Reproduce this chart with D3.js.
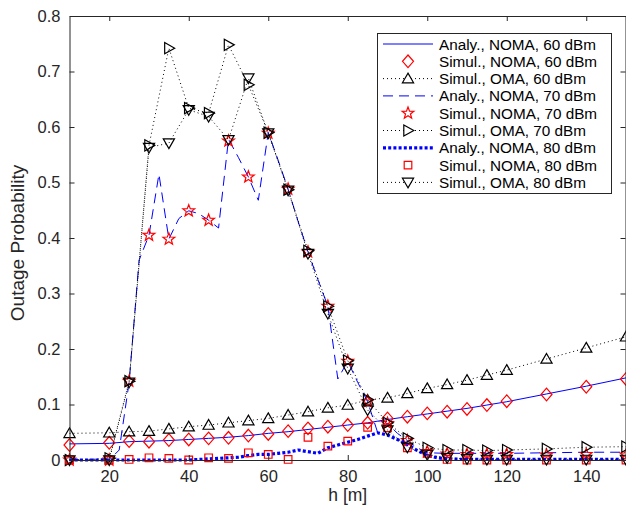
<!DOCTYPE html>
<html><head><meta charset="utf-8">
<script src="https://cdn.jsdelivr.net/npm/d3@7"></script>
<style>body{margin:0;background:#fff} svg{display:block;font-family:"Liberation Sans",Arial,sans-serif}</style>
</head><body><svg id="c" width="626" height="510"></svg>
<script>
// ---- data ----
const hSim = [10,20,25,30,35,40,45,50,55,60,65,70,75,80,85,90,95,100,105,110,115,120,130,140,150];
const analyNoma60 = [0.029,0.030,0.033,0.034,0.035,0.037,0.039,0.041,0.044,0.048,0.051,0.055,0.059,0.063,0.067,0.073,0.078,0.083,0.088,0.093,0.099,0.105,0.119,0.133,0.148];
const simNoma60  = [0.027,0.031,0.034,0.033,0.036,0.037,0.039,0.040,0.044,0.047,0.052,0.057,0.060,0.063,0.067,0.075,0.078,0.084,0.087,0.092,0.099,0.106,0.118,0.132,0.146];
const simOma60   = [0.048,0.049,0.051,0.052,0.056,0.060,0.063,0.067,0.071,0.075,0.081,0.087,0.094,0.099,0.108,0.112,0.120,0.129,0.136,0.144,0.153,0.162,0.182,0.202,0.222];
const simNoma70  = [0.000,0.000,0.142,0.405,0.398,0.449,0.432,0.575,0.510,0.589,0.488,0.375,0.277,0.178,0.105,0.066,0.035,0.015,0.011,0.010,0.010,0.010,0.009,0.010,0.009];
const simOma70   = [0.000,0.003,0.142,0.567,0.742,0.634,0.625,0.748,0.676,0.590,0.487,0.377,0.277,0.179,0.109,0.067,0.039,0.022,0.018,0.018,0.017,0.018,0.020,0.023,0.024];
const simNoma80  = [0.000,0.000,0.001,0.004,0.003,0.000,0.004,0.003,0.013,0.010,0.001,0.041,0.025,0.034,0.059,0.058,0.022,0.012,0.001,0.000,0.000,0.000,0.000,0.000,0.000];
const simOma80   = [0.000,0.000,0.140,0.563,0.571,0.631,0.619,0.577,0.688,0.589,0.486,0.372,0.264,0.165,0.090,0.054,0.023,0.010,0.004,0.002,0.001,0.001,0.001,0.001,0.001];
const hAnaly70 = [10,20,22.5,25,27.5,30,32.5,35,37.5,40,42.5,45,47.5,50,52.5,55,57.5,60,62.5,65,67.5,70,72.5,75,77.5,80,82.5,85,87.5,90,92.5,95,97.5,100,105,110,115,120,130,140,150];
const analyNoma70 = [0,0,0.018,0.14,0.36,0.405,0.515,0.398,0.435,0.449,0.444,0.432,0.418,0.578,0.545,0.51,0.468,0.59,0.54,0.488,0.43,0.375,0.325,0.277,0.146,0.178,0.14,0.105,0.05,0.066,0.048,0.035,0.022,0.013,0.012,0.012,0.012,0.012,0.013,0.014,0.014];
const hAnaly80 = [10,40,42.5,45,47.5,50,52.5,55,57.5,60,62.5,65,67.5,70,72.5,75,77.5,80,82.5,85,87.5,90,92.5,95,97.5,100,102.5,105,110,120,130,140,150];
const analyNoma80 = [0,0,0.001,0.002,0.003,0.004,0.005,0.008,0.010,0.010,0.012,0.014,0.018,0.015,0.012,0.022,0.027,0.032,0.037,0.043,0.049,0.045,0.037,0.028,0.017,0.008,0.004,0.002,0.001,0.001,0.001,0.001,0.001];
const xTicks = [20,40,60,80,100,120,140];
const yTicks = [0,0.1,0.2,0.3,0.4,0.5,0.6,0.7,0.8];
const legendLabels = ["Analy., NOMA, 60 dBm","Simul., NOMA, 60 dBm","Simul., OMA, 60 dBm","Analy., NOMA, 70 dBm","Simul., NOMA, 70 dBm","Simul., OMA, 70 dBm","Analy., NOMA, 80 dBm","Simul., NOMA, 80 dBm","Simul., OMA, 80 dBm"];

// ---- layout ----
const L=69.5, R=626, T=16, B=460;
const svg=d3.select("#c");
const x=d3.scaleLinear().domain([10,150]).range([L,R]);
const y=d3.scaleLinear().domain([0,0.8]).range([B,T]);
const axisColor="#262626";

function markerPath(type){
  switch(type){
    case "diamond": return "M0,-6.3L5.5,0L0,6.3L-5.5,0Z";
    case "up": return "M0,-5.5L5.6,4.2L-5.6,4.2Z";
    case "right": return "M5.8,0L-4.2,-5.6L-4.2,5.6Z";
    case "down": return "M0,5.5L5.6,-4.2L-5.6,-4.2Z";
    case "square": return "M-3.8,-3.8H3.8V3.8H-3.8Z";
    case "star": {
      let p=[]; for(let i=0;i<10;i++){const r=i%2?2.6:6.2; const a=-Math.PI/2+i*Math.PI/5; p.push([r*Math.cos(a),r*Math.sin(a)]);}
      return "M"+p.map(d=>d[0].toFixed(2)+","+d[1].toFixed(2)).join("L")+"Z";
    }
  }
}

const plot=svg.append("g");
const line=d3.line().x(d=>x(d[0])).y(d=>y(d[1]));

function drawLine(hs,vs,style){
  plot.append("path").datum(hs.map((h,i)=>[h,vs[i]])).attr("d",line)
    .attr("fill","none").attr("stroke",style.color).attr("stroke-width",style.width)
    .attr("stroke-dasharray",style.dash||null);
}
function drawMarkers(hs,vs,type,color){
  plot.append("g").selectAll("path").data(hs.map((h,i)=>[h,vs[i]])).join("path")
    .attr("transform",d=>`translate(${x(d[0])},${y(d[1])})`)
    .attr("d",markerPath(type)).attr("fill","none").attr("stroke",color).attr("stroke-width",1.2);
}
const sSolid={color:"#0000ff",width:1};
const sDash={color:"#0000ff",width:1,dash:"10,6"};
const sThickDot={color:"#0000ff",width:3.2,dash:"3,2.2"};
const sDot={color:"#000",width:1,dash:"1,3"};

drawLine(hSim,analyNoma60,sSolid);
drawMarkers(hSim,simNoma60,"diamond","#ff0000");
drawLine(hSim,simOma60,sDot); drawMarkers(hSim,simOma60,"up","#000");
drawLine(hAnaly70,analyNoma70,sDash);
drawMarkers(hSim,simNoma70,"star","#ff0000");
drawLine(hSim,simOma70,sDot); drawMarkers(hSim,simOma70,"right","#000");
drawLine(hAnaly80,analyNoma80,sThickDot);
drawMarkers(hSim,simNoma80,"square","#ff0000");
drawLine(hSim,simOma80,sDot); drawMarkers(hSim,simOma80,"down","#000");

// axes
function styleAxis(g){ g.selectAll("path,line").attr("stroke",axisColor); g.selectAll("text").attr("fill",axisColor).attr("font-size","16.5px").attr("font-family","Liberation Sans, Arial, sans-serif"); }
svg.append("g").attr("transform",`translate(0,${B})`).call(d3.axisBottom(x).tickValues(xTicks).tickSize(-5).tickSizeOuter(0).tickPadding(10)).call(styleAxis);
svg.append("g").attr("transform",`translate(0,${T})`).call(d3.axisTop(x).tickValues(xTicks).tickSize(-5).tickSizeOuter(0).tickFormat("")).call(styleAxis);
svg.append("g").attr("transform",`translate(${L},0)`).call(d3.axisLeft(y).tickValues(yTicks).tickSize(-5).tickSizeOuter(0).tickPadding(9).tickFormat(d3.format("~g"))).call(styleAxis);
svg.append("g").attr("transform",`translate(${R-0.5},0)`).call(d3.axisRight(y).tickValues(yTicks).tickSize(-5).tickSizeOuter(0).tickFormat("")).call(styleAxis);

svg.append("text").attr("x",(L+R)/2).attr("y",501).attr("text-anchor","middle").attr("font-size","17.5px").attr("fill",axisColor).text("h [m]");
svg.append("text").attr("transform",`translate(24,${(T+B)/2+5}) rotate(-90)`).attr("text-anchor","middle").attr("font-size","19px").attr("fill",axisColor).text("Outage Probability");

// legend
const lg=svg.append("g");
lg.append("rect").attr("x",377.5).attr("y",33.5).attr("width",234).attr("height",160).attr("fill","#fff").attr("stroke",axisColor).attr("stroke-width",1);
const legendStyles=[[sSolid,null,null],[null,"diamond","#ff0000"],[sDot,"up","#000"],[sDash,null,null],[null,"star","#ff0000"],[sDot,"right","#000"],[sThickDot,null,null],[null,"square","#ff0000"],[sDot,"down","#000"]];
legendLabels.forEach((lab,i)=>{
  const yy=44+i*17.3;
  const [ls,mt,mc]=legendStyles[i];
  if(ls) lg.append("line").attr("x1",383).attr("x2",433).attr("y1",yy).attr("y2",yy).attr("stroke",ls.color).attr("stroke-width",ls.width).attr("stroke-dasharray",ls.dash||null);
  if(mt) lg.append("path").attr("transform",`translate(408,${yy})`).attr("d",markerPath(mt)).attr("fill",ls?"#fff":"none").attr("stroke",mc).attr("stroke-width",1.2);
  lg.append("text").attr("x",439).attr("y",yy+5.5).attr("font-size","15.3px").attr("fill","#000").text(lab);
});
</script></body></html>
